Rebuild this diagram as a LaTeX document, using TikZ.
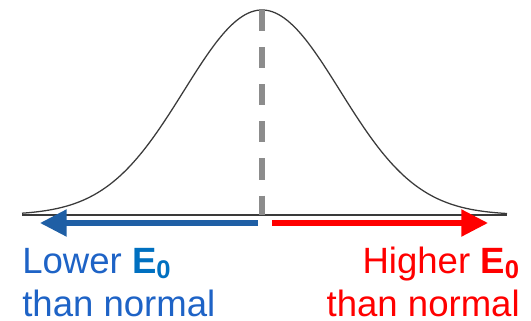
\documentclass[tikz,border=0pt]{standalone}
\usepackage{fontspec,tikz}
\setmainfont{Liberation Sans}
\usetikzlibrary{arrows.meta}
\definecolor{lowblue}{HTML}{1F5FA5}
\definecolor{lowtext}{HTML}{1E63C6}
\definecolor{ezero}{HTML}{0070C0}
\definecolor{highred}{HTML}{FF0000}
\definecolor{meangray}{HTML}{8C8C8C}
\definecolor{curvegray}{HTML}{3A3A3A}
\tikzset{
  axisline/.style={draw=curvegray,line width=.8pt},
  bell/.style={draw=curvegray,line width=.9pt},
  meanline/.style={draw=meangray,line width=3.6pt,dash pattern=on 15pt off 11.4pt},
  shift arrow/.style={line width=3.8pt,-{Triangle[length=19pt,width=18.5pt]}},
  side label/.style={inner sep=0pt,align=#1,font=\fontsize{26}{30.5}\selectfont}
}
\begin{document}
\begin{tikzpicture}[x=0.025cm,y=-0.025cm]
\useasboundingbox (0,0) rectangle (531,321);
% Normal distribution over the axis, mean marked by a dashed line.
\draw[axisline] (22,215) -- (507,215);
\draw[bell] plot[domain=22:507,samples=160,smooth] (\x,{215-205*exp(-0.5*((\x-262)/78)^2)});
\coordinate (peak) at (262,10);
\coordinate (base) at (262,215);
\draw[meanline] (peak) -- (base);
% Shifts away from the mean.
\coordinate (lowstart) at (258,223);
\coordinate (lowend) at (40,223);
\coordinate (highstart) at (272,223);
\coordinate (highend) at (488,223);
\draw[shift arrow,draw=lowblue,fill=lowblue] (lowstart) -- (lowend);
\draw[shift arrow,draw=highred,fill=highred] (highstart) -- (highend);
\node[side label=left,anchor=base west,text=lowtext] (lowlabel) at (22,316) {Lower \textcolor{ezero}{\textbf{E\textsubscript{0}}}\\than normal};
\node[side label=right,anchor=base east,text=highred] (highlabel) at (520,316) {Higher \textbf{E\textsubscript{0}}\\than normal};
\end{tikzpicture}
\end{document}
